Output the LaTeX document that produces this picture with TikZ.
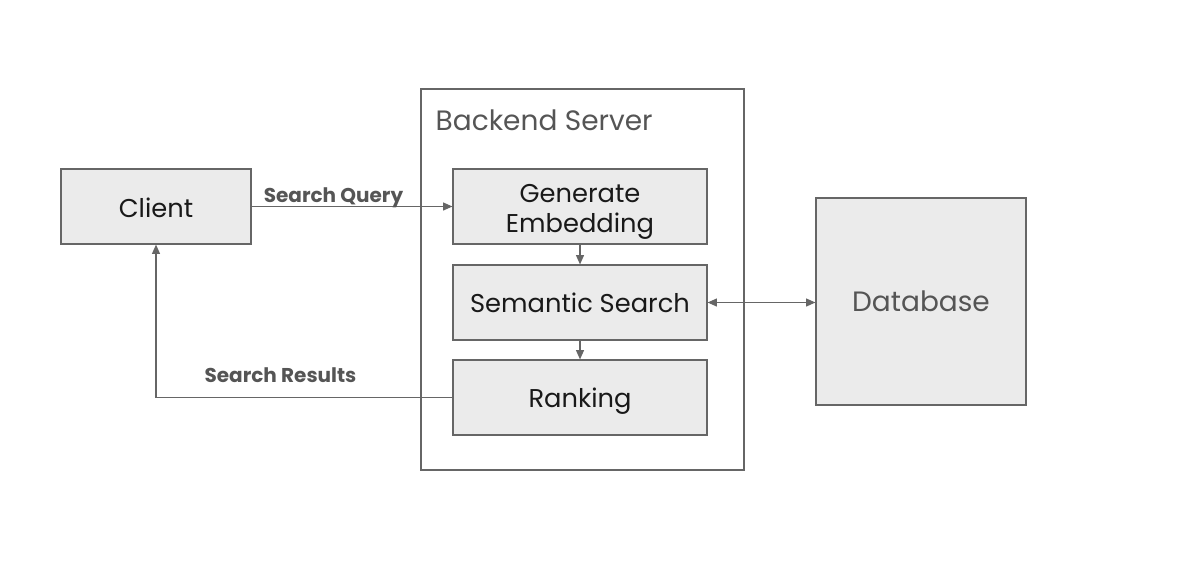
\documentclass[tikz,border=0pt]{standalone}
\usepackage{fontspec}
\setmainfont{Poppins}
\usetikzlibrary{arrows.meta}
\definecolor{boxfill}{HTML}{EBEBEB}
\definecolor{edge}{HTML}{666666}
\definecolor{txtgray}{HTML}{555555}
\newcommand{\lowr}[2]{\raisebox{-#1}[\height][\depth]{#2}}
\begin{document}
\begin{tikzpicture}[x=0.75pt,y=-0.75pt,
  box/.style={draw=edge,fill=boxfill,line width=0.9pt,inner sep=0pt,font=\fontsize{19.3}{22.5}\selectfont,text=black!90,align=center},
  conn/.style={draw=edge,line width=0.9pt,-{Triangle[length=7pt,width=6pt]}},
  lbl/.style={font=\bfseries\fontsize{15}{18}\selectfont,text=txtgray}]
\useasboundingbox (0,0) rectangle (1177,572);
\node[draw=edge,line width=0.9pt,fill=white,minimum width=323*0.75pt,minimum height=381*0.75pt,inner sep=0pt] (backend) at (582.5,279.5) {};
\node[anchor=west,font=\fontsize{21}{24}\selectfont,text=txtgray] (btitle) at (431,120) {Backend Server};
\node[box,minimum width=190*0.75pt,minimum height=75*0.75pt] (client) at (156,206.5) {\lowr{1pt}{Client}};
\node[box,minimum width=254*0.75pt,minimum height=75*0.75pt] (gen) at (580,206.5) {\lowr{3.7pt}{\begin{tabular}{@{}c@{}}Generate\\Embedding\end{tabular}}};
\node[box,minimum width=254*0.75pt,minimum height=75*0.75pt] (sem) at (580,302.5) {Semantic Search};
\node[box,minimum width=254*0.75pt,minimum height=75*0.75pt] (rank) at (580,397.5) {\lowr{3pt}{Ranking}};
\node[box,minimum width=210*0.75pt,minimum height=207*0.75pt,font=\fontsize{21}{24}\selectfont,text=txtgray] (db) at (921,301.5) {Database};
\draw[conn] (client.east) -- (gen.west);
\node[lbl] (sq) at (333.5,198) {Search Query};
\draw[conn] (gen.south) -- (sem.north);
\draw[conn] (sem.south) -- (rank.north);
\draw[conn,{Triangle[length=7pt,width=6pt]}-{Triangle[length=7pt,width=6pt]}] (sem.east) -- (db.west |- sem.east);
\draw[conn] (rank.west) -| (client.south);
\node[lbl] (sr) at (280.5,375) {Search Results};
\end{tikzpicture}
\end{document}
